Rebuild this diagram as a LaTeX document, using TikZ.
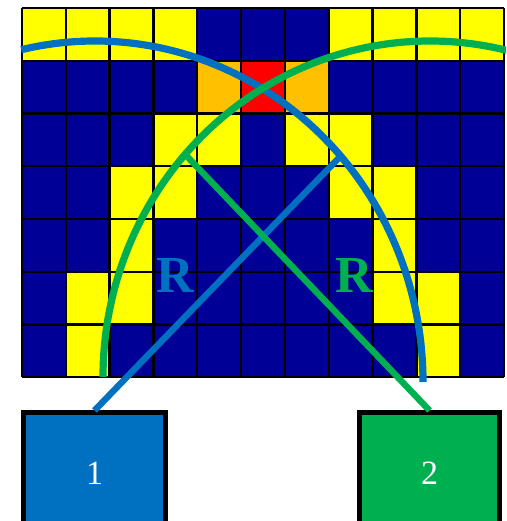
\documentclass[tikz,border=0pt]{standalone}
\usepackage{fontspec}
\setmainfont{Liberation Serif}
\usetikzlibrary{calc}
\definecolor{cY}{RGB}{255,255,0}
\definecolor{cN}{RGB}{0,0,150}
\definecolor{cO}{RGB}{255,192,0}
\definecolor{cR}{RGB}{255,0,0}
\definecolor{bl}{RGB}{0,112,192}
\definecolor{gr}{RGB}{0,176,80}
\tikzset{
  gridline/.style={line width=2.4pt,black},
  arcline/.style={line width=7.2pt},
  radline/.style={line width=6.4pt},
  boxnode/.style={draw=black,line width=5pt,anchor=north,minimum height=120pt,inner sep=0pt,text=white,font=\fontsize{34}{34}\selectfont},
  rlabel/.style={font=\fontsize{52}{52}\selectfont\bfseries,inner sep=0pt}
}
\begin{document}
\begin{tikzpicture}[x=1pt,y=1pt]
\useasboundingbox (0,0) rectangle (506,521);
\clip (0,0) rectangle (506,521);
\fill[white] (0,0) rectangle (506,521);
% cells
\foreach \row [count=\r from 0] in {{Y,Y,Y,Y,N,N,N,Y,Y,Y,Y},{N,N,N,N,O,R,O,N,N,N,N},{N,N,N,Y,Y,N,Y,Y,N,N,N},{N,N,Y,Y,N,N,N,Y,Y,N,N},{N,N,Y,N,N,N,N,N,Y,N,N},{N,Y,Y,N,N,N,N,N,Y,Y,N},{N,Y,N,N,N,N,N,N,N,Y,N}}{
  \foreach \c [count=\k from 0] in \row {
    \fill[c\c] (22+\k*43.818,513-\r*52.757) rectangle ++(43.818,-52.757);
  }
}
\foreach \i in {0,...,11}{\draw[gridline] (22+\i*43.818,143.7) -- ++(0,369.3);}
\foreach \j in {0,...,7}{\draw[gridline] (22,143.7+\j*52.757) -- ++(482,0);}
% boxes
\node[boxnode,fill=bl,minimum width=142pt] (b1) at (94.5,110.5) {1};
\node[boxnode,fill=gr,minimum width=140pt] (b2) at (429.5,110.5) {2};
% arcs
\coordinate (bc) at (95,139);
\coordinate (gc) at (430,144);
\coordinate (bs) at ($(bc)+(0:328 and 341)$);
\coordinate (gs) at ($(gc)+(180:327 and 336)$);
\coordinate (bp) at ($(bc)+(41.5:328 and 341)$);
\coordinate (gp) at ($(gc)+(138.5:327 and 336)$);
\draw[arcline,bl] (bs) arc[start angle=0,end angle=103,x radius=328,y radius=341];
\draw[arcline,gr] (gs) arc[start angle=180,end angle=76.5,x radius=327,y radius=336];
\draw[radline,bl] (b1.north) -- (bp);
\draw[radline,gr] (b2.north) -- (gp);
\node[rlabel,text=bl] (rb) at (175,246) {R};
\node[rlabel,text=gr] (rg) at (354,246) {R};
\end{tikzpicture}
\end{document}
